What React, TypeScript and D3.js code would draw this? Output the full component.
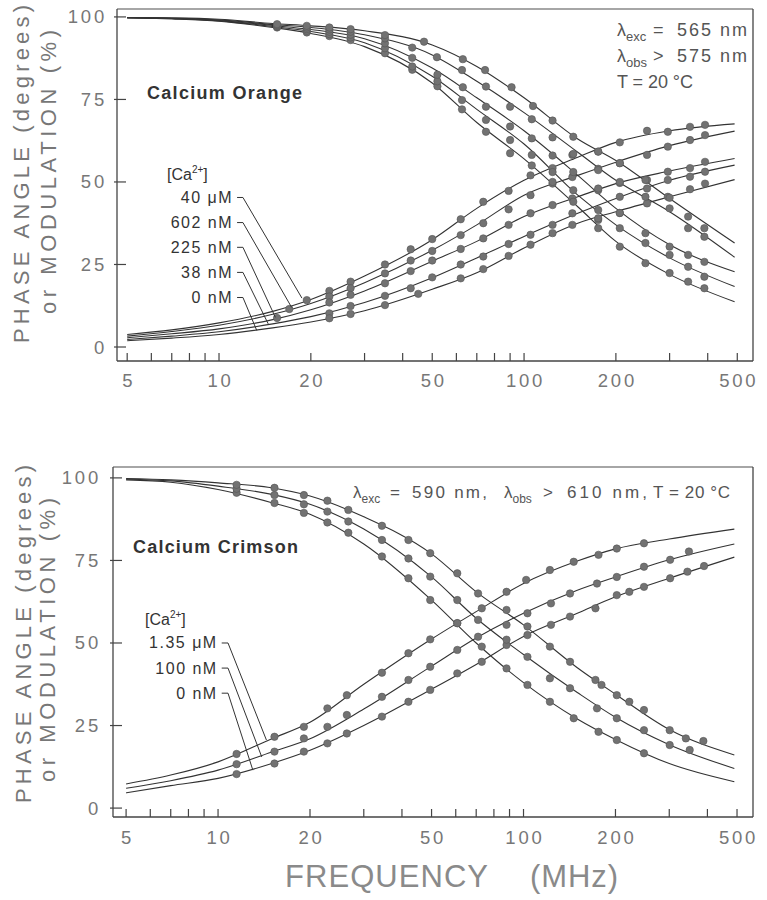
import React from "react";
import * as d3 from "d3";

// ---------- shared axis data ----------
const curveFreqs = [5, 7, 10, 15, 20, 30, 50, 70, 100, 150, 200, 300, 490];
const xTickValues = [5, 6, 7, 8, 9, 10, 20, 30, 40, 50, 60, 70, 80, 90, 100, 200, 300, 400, 500];
const xTickLabels = [5, 10, 20, 50, 100, 200, 500];
const yTickValues = [0, 25, 50, 75, 100];

// ---------- Calcium Orange (top) ----------
const orangeConc = ["40 μM", "602 nM", "225 nM", "38 nM", "0 nM"];
// fitted phase curves, values at curveFreqs
const orangePhaseCurves = [
  [3.8, 5.2, 7.3, 10.8, 14.4, 21.5, 32.5, 42, 50.5, 57.5, 62, 65.5, 67.6],
  [3.3, 4.7, 6.6, 9.9, 13.2, 19.5, 29.3, 37, 46, 52, 56, 61, 65.4],
  [2.8, 4, 5.5, 8.3, 11.3, 17, 26, 32, 39.5, 45.5, 49.5, 53.3, 57.1],
  [2.3, 3.3, 4.6, 7, 9.2, 13.5, 21, 27, 33.5, 40.5, 45, 50.5, 55.1],
  [1.9, 2.7, 3.8, 5.8, 7.6, 11, 17.5, 22.5, 30, 37.5, 41, 45.5, 50.7],
];
// fitted modulation curves
const orangeModCurves = [
  [99.8, 99.4, 98.7, 96.8, 95, 91, 80, 68, 57, 42.5, 32, 22, 13.7],
  [99.8, 99.5, 98.8, 97.1, 95.6, 92.2, 82, 72, 61.5, 46, 37, 27, 18.3],
  [99.8, 99.5, 98.9, 97.4, 96.2, 93.4, 84.5, 75.5, 65.5, 52, 42, 31, 22.8],
  [99.8, 99.6, 99.1, 97.7, 96.8, 94.6, 88.5, 80.5, 71, 59, 50.5, 41, 27.2],
  [99.8, 99.7, 99.3, 98, 97.3, 95.8, 91.5, 85, 75.5, 63, 56.5, 45, 31.5],
];
// measured points [MHz, value]
const orangePhaseDots: number[][][] = [
  [[19.4, 14.2], [23, 17], [27, 19.8], [35, 25], [42.5, 29.6], [50, 32.7], [62, 38.7], [73.5, 44], [89, 47.3], [105, 52], [124, 54.2], [144, 58.2], [175, 59.2], [206, 62], [253, 65.5], [296, 65.2], [350, 66.7], [392, 67.3]],
  [[17, 11.5], [23, 15.3], [27, 17.8], [35, 22.3], [42.5, 26.2], [50, 29.1], [62, 33.9], [73.5, 37.5], [89, 41.7], [105, 46], [124, 49.5], [144, 51.5], [175, 54], [206, 55.7], [253, 58.2], [296, 60.7], [350, 62.7], [392, 64.2]],
  [[15.5, 8.8], [23, 13.5], [27, 15.8], [35, 19.3], [42.5, 23], [50, 26.2], [62, 29.7], [73.5, 32.9], [89, 37], [105, 40.5], [124, 43], [144, 45], [175, 47.5], [206, 49.7], [253, 50.6], [296, 53.1], [350, 54.2], [392, 56.1]],
  [[23, 10.2], [27, 12.4], [35, 15.5], [42.5, 17.8], [50, 21.1], [62, 25], [73.5, 27.4], [89, 31.2], [105, 34], [124, 37], [144, 40.5], [175, 41.5], [206, 45.5], [253, 48], [296, 50.6], [350, 51.6], [392, 53.1]],
  [[23, 8.7], [27, 10], [35, 12.7], [45, 16.1], [62, 20.8], [73.5, 23.6], [89, 27.6], [105, 31], [124, 34.5], [144, 37], [175, 38.5], [206, 40.6], [253, 43.5], [296, 45.5], [350, 47.8], [392, 49.5]],
];
const orangeModDots: number[][][] = [
  [[15.5, 96.8], [19.4, 95.3], [23, 94.2], [27, 93], [35, 89], [43, 84], [52, 79], [62.6, 72], [75, 65.2], [90, 58.7], [106, 55], [124, 50], [145, 44], [175, 36], [206, 30.4], [250, 25.4], [300, 22.4], [345, 19.8], [390, 17.8]],
  [[15.5, 97], [19.4, 95.8], [23, 94.8], [27, 93.8], [35, 90.5], [43, 85], [52, 80.5], [62.6, 74.8], [75, 68.8], [90, 62.7], [106, 58.2], [124, 53], [145, 47.5], [175, 39], [206, 36], [250, 31.5], [300, 27.9], [345, 24.3], [390, 21.3]],
  [[15.5, 97.2], [19.4, 96.3], [23, 95.5], [27, 94.6], [35, 92], [43, 87.6], [52, 82.5], [63, 78.7], [75, 72.8], [90, 66.8], [106, 63.2], [124, 58], [145, 53], [175, 48], [206, 40.6], [250, 34.5], [300, 30.4], [345, 27.9], [390, 25.8]],
  [[15.5, 97.5], [19.4, 96.8], [23, 96.2], [27, 95.5], [35, 93.5], [43, 90.7], [51.8, 87.8], [62.6, 83.9], [75, 78.9], [90, 72.8], [106, 69], [124, 63.5], [145, 58.5], [175, 53.6], [206, 50], [250, 45.5], [300, 42], [345, 36], [390, 33.4]],
  [[15.5, 97.8], [19.4, 97.3], [23, 96.8], [27, 96.3], [35, 94.5], [47, 92.5], [63, 87.2], [74.5, 83.9], [91, 78.7], [107, 73], [124, 68.6], [145, 63.7], [175, 59.2], [206, 55.7], [250, 50.6], [300, 45.2], [345, 39.5], [390, 36]],
];

// ---------- Calcium Crimson (bottom) ----------
const crimsonConc = ["1.35 μM", "100 nM", "0 nM"];
const crimsonPhaseCurves = [
  [7.3, 10, 14, 21, 26, 37.5, 51.2, 59.5, 68, 74.8, 78.5, 81.5, 84.5],
  [6, 8.3, 11.5, 17, 21, 30, 43, 51.5, 59, 66, 70, 75.2, 80],
  [4.6, 6.8, 9, 13.5, 17.5, 25, 36, 43.5, 52, 59, 64, 69.6, 76],
];
const crimsonModCurves = [
  [99.4, 98.7, 96.5, 92.5, 89, 80, 63, 50, 38, 27, 20.8, 13.5, 8],
  [99.6, 99.1, 97.5, 95, 92, 84.5, 70, 57.5, 46.5, 35, 27.5, 19.2, 12],
  [99.8, 99.4, 98.5, 97, 94.5, 88.2, 77, 65.5, 55.5, 42.5, 34.5, 23.8, 16.1],
];
const crimsonPhaseDots: number[][][] = [
  [[11.5, 16.4], [15.3, 21.6], [19.1, 24.6], [22.8, 30.2], [26.4, 34.2], [34.4, 41], [42, 46.9], [49.5, 51.1], [60.7, 56], [73, 60.5], [88, 65.5], [102, 69.1], [122, 72.1], [146, 74.6], [176, 76.7], [202, 78.6], [248, 80.2]],
  [[11.5, 13.3], [15.3, 17.1], [19.1, 21.1], [22.8, 24.6], [26.4, 28.2], [34.4, 33.7], [42, 38.8], [49.5, 42.8], [60.7, 47.9], [71, 51.9], [88, 55.5], [103, 59], [123, 62], [142, 65], [174, 68], [202, 70], [248, 73.1], [302, 75.2], [348, 77.7]],
  [[11.5, 10.3], [15.3, 13.5], [19.1, 17.1], [22.8, 19.6], [26.4, 22.6], [34.4, 27.7], [42, 32.2], [49.5, 35.8], [60.7, 40.8], [73, 44.3], [88, 49.4], [103, 52.4], [123, 55.5], [142, 58], [172, 60.5], [202, 64.5], [222, 65.5], [248, 67], [302, 69.6], [344, 71.6], [390, 73.3]],
];
const crimsonModDots: number[][][] = [
  [[11.5, 95.5], [15.3, 92.4], [19.1, 89.4], [22.8, 86.5], [26.7, 83.4], [34.4, 76.2], [42, 69.6], [49.5, 63], [60.7, 56], [73, 48.9], [88, 42.3], [103, 37.3], [122, 32.2], [146, 27.2], [176, 23.1], [202, 20.6], [248, 16.6]],
  [[11.5, 96.7], [15.3, 94.8], [19.1, 92], [22.8, 89.8], [26.7, 86.8], [34.4, 81.2], [42, 75.6], [49.5, 70.1], [60.7, 63], [71, 57], [88, 51], [103, 45.8], [122, 39.3], [142, 36.3], [174, 30.2], [202, 27.2], [248, 23.6], [301, 19.1], [350, 17.6]],
  [[11.5, 97.9], [15.3, 97], [19.1, 94.8], [22.8, 93.1], [26.7, 90.3], [34.4, 85.5], [42, 81.2], [49.5, 77.2], [60.7, 71.1], [71, 65], [88, 60], [103, 55], [122, 48.9], [142, 44.3], [172, 38.8], [180, 37.3], [202, 34.2], [222, 32.2], [248, 29.7], [301, 23.6], [340, 21.1], [388, 20.3]],
];

// ---------- annotation anchors (data units) ----------
const orangeLabelLevels = [45.3, 37.7, 30.2, 22.6, 15.0];
const orangeLeaderEnds = [[18.7, 14.8], [17.3, 12], [15.3, 9], [14.5, 7], [13.3, 5]];
const crimsonLabelLevels = [50, 42.4, 34.8];
const crimsonLeaderEnds = [[14.4, 20.6], [13.9, 15.5], [13.0, 11.5]];

const FONT = "'Liberation Sans', Arial, Helvetica, sans-serif";
const INK = "#333";
const GRAY = "#777";

type PanelProps = {
  xr: [number, number];
  yr: [number, number];
  fDom: [number, number];
  vDom: [number, number];
  phase: number[][];
  mod: number[][];
  phaseDots: number[][][];
  modDots: number[][][];
  conc: string[];
  labelLevels: number[];
  leaderEnds: number[][];
  leaderStart: number;
  leaderElbow: number;
  yLabelX: number;
  xLabelY: number;
  title1: { x: number; y: number };
  title2: { x: number; y: number };
  children?: React.ReactNode;
};

function Panel(p: PanelProps) {
  const x = d3.scaleLog().domain(p.fDom).range(p.xr);
  const y = d3.scaleLinear().domain(p.vDom).range([p.yr[1], p.yr[0]]);
  const [x0, x1] = p.xr;
  const [y0, y1] = p.yr;
  const line = d3
    .line<number[]>()
    .x((d) => x(d[0]))
    .y((d) => y(d[1]))
    .curve(d3.curveMonotoneX);
  const curves = [...p.phase, ...p.mod].map((vals) => curveFreqs.map((f, i) => [f, vals[i]]));
  const dots = [...p.phaseDots, ...p.modDots];
  return (
    <g>
      {/* frame */}
      <g stroke="#444" strokeWidth={1.3} fill="none">
        <line x1={x0} y1={y0} x2={x1} y2={y0} stroke="#888" />
        <line x1={x1} y1={y0} x2={x1} y2={y1} />
        <line x1={x0} y1={y1} x2={x1} y2={y1} />
        <line x1={x0} y1={y0} x2={x0} y2={y1} />
      </g>
      {/* y ticks */}
      {yTickValues.map((v) => (
        <g key={"y" + v}>
          <line x1={x0 - 3} x2={x0 + 9} y1={y(v)} y2={y(v)} stroke="#444" strokeWidth={1.2} />
          <text x={p.yLabelX} y={y(v) + 6.5} textAnchor="end" fontSize={18.5} fill={GRAY} style={{ letterSpacing: "2.8px" }}>
            {v}
          </text>
        </g>
      ))}
      {/* x ticks */}
      {xTickValues.map((f) => (
        <line key={"x" + f} x1={x(f)} x2={x(f)} y1={y1} y2={y1 - 8} stroke="#444" strokeWidth={1.2} />
      ))}
      {xTickLabels.map((f) => (
        <text key={"xl" + f} x={x(f) + 1.5} y={p.xLabelY + 6.5} textAnchor="middle" fontSize={18.5} fill={GRAY} style={{ letterSpacing: "2.8px" }}>
          {f}
        </text>
      ))}
      {/* axis titles */}
      <text transform={`translate(${p.title1.x},${p.title1.y}) rotate(-90)`} textAnchor="middle" fontSize={22} fill={GRAY} textLength={338} lengthAdjust="spacing">
        PHASE ANGLE (degrees)
      </text>
      <text transform={`translate(${p.title2.x},${p.title2.y}) rotate(-90)`} textAnchor="middle" fontSize={22} fill={GRAY} textLength={284} lengthAdjust="spacing">
        or MODULATION (%)
      </text>
      {/* curves */}
      {curves.map((c, i) => (
        <path key={"c" + i} d={line(c) || ""} fill="none" stroke={INK} strokeWidth={1.1} />
      ))}
      {/* data points */}
      {dots.map((s, i) =>
        s.map((d, j) => (
          <circle key={`d${i}-${j}`} cx={x(d[0])} cy={y(d[1])} r={3.7} fill="#727272" stroke="#555" strokeWidth={0.6} />
        ))
      )}
      {/* concentration labels and leaders */}
      {p.conc.map((c, i) => {
        const ly = y(p.labelLevels[i]);
        const pts = [
          [x(p.leaderStart), ly],
          [x(p.leaderElbow), ly],
          [x(p.leaderEnds[i][0]), y(p.leaderEnds[i][1])],
        ];
        return (
          <g key={"l" + i}>
            <text x={x(p.leaderStart) - 4} y={ly + 5.5} textAnchor="end" fontSize={16} fill={INK} style={{ letterSpacing: "1.5px" }}>
              {c}
            </text>
            <polyline points={pts.map((q) => q.join(",")).join(" ")} fill="none" stroke={INK} strokeWidth={1} />
          </g>
        );
      })}
      {p.children}
    </g>
  );
}

export default function App() {
  return (
    <svg width={767} height={900} style={{ position: "absolute", left: 0, top: 0, background: "#fff" }} fontFamily={FONT}>
      <rect x={0} y={0} width={767} height={900} fill="#fff" />
      <Panel
        xr={[117, 753]}
        yr={[9, 361]}
        fDom={[4.63, 563]}
        vDom={[-4.24, 102.4]}
        phase={orangePhaseCurves}
        mod={orangeModCurves}
        phaseDots={orangePhaseDots}
        modDots={orangeModDots}
        conc={orangeConc}
        labelLevels={orangeLabelLevels}
        leaderEnds={orangeLeaderEnds}
        leaderStart={11.46}
        leaderElbow={11.98}
        yLabelX={107}
        xLabelY={380}
        title1={{ x: 29, y: 174 }}
        title2={{ x: 56, y: 172 }}
      >
        <text x={147} y={99} fontSize={18} fontWeight="bold" fill={INK} textLength={155} lengthAdjust="spacing">
          Calcium Orange
        </text>
        <text x={167} y={180} fontSize={16} fill={INK}>
          [Ca<tspan dy={-7} fontSize={10}>2+</tspan>
          <tspan dy={7}>]</tspan>
        </text>
        <g fontSize={18} fill="#555">
          <text x={617} y={36}>
            λ<tspan dy={5} fontSize={13}>exc</tspan>
            <tspan x={653} dy={-5}>=</tspan>
            <tspan x={677} textLength={70} lengthAdjust="spacing">565 nm</tspan>
          </text>
          <text x={617} y={62}>
            λ<tspan dy={5} fontSize={13}>obs</tspan>
            <tspan x={653} dy={-5}>&gt;</tspan>
            <tspan x={677} textLength={70} lengthAdjust="spacing">575 nm</tspan>
          </text>
          <text x={617} y={88} textLength={76} lengthAdjust="spacing">
            T = 20 °C
          </text>
        </g>
      </Panel>
      <Panel
        xr={[113, 753]}
        yr={[467, 817]}
        fDom={[4.53, 564]}
        vDom={[-2.7, 103.3]}
        phase={crimsonPhaseCurves}
        mod={crimsonModCurves}
        phaseDots={crimsonPhaseDots}
        modDots={crimsonModDots}
        conc={crimsonConc}
        labelLevels={crimsonLabelLevels}
        leaderEnds={crimsonLeaderEnds}
        leaderStart={10.28}
        leaderElbow={10.78}
        yLabelX={101}
        xLabelY={837}
        title1={{ x: 31, y: 634 }}
        title2={{ x: 55, y: 640 }}
      >
        <text x={133} y={553} fontSize={18} fontWeight="bold" fill={INK} textLength={165} lengthAdjust="spacing">
          Calcium Crimson
        </text>
        <text x={145} y={625} fontSize={16} fill={INK}>
          [Ca<tspan dy={-7} fontSize={10}>2+</tspan>
          <tspan dy={7}>]</tspan>
        </text>
        <g fontSize={17} fill="#555">
          <text x={353} y={498}>
            λ<tspan dy={5} fontSize={12}>exc</tspan>
            <tspan x={390} dy={-5}>=</tspan>
            <tspan x={412} textLength={75} lengthAdjust="spacing">590 nm,</tspan>
            <tspan x={504}>λ</tspan>
            <tspan dy={5} fontSize={12}>obs</tspan>
            <tspan x={543} dy={-5}>&gt;</tspan>
            <tspan x={567} textLength={80} lengthAdjust="spacing">610 nm,</tspan>
            <tspan x={653} textLength={77} lengthAdjust="spacing">T = 20 °C</tspan>
          </text>
        </g>
      </Panel>
      <text x={285} y={887} fontSize={31} fill="#8a8a8a" textLength={203} lengthAdjust="spacing">
        FREQUENCY
      </text>
      <text x={530} y={887} fontSize={31} fill="#8a8a8a" textLength={88} lengthAdjust="spacing">
        (MHz)
      </text>
    </svg>
  );
}
